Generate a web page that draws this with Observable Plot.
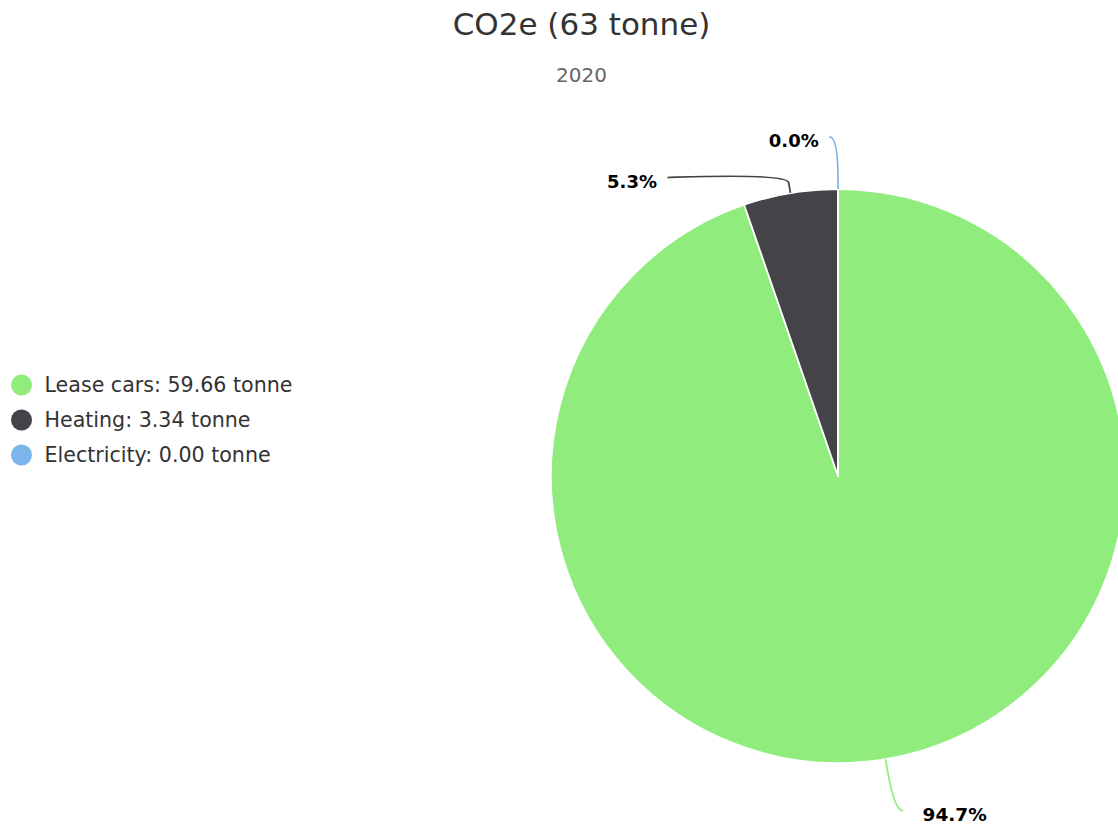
<!DOCTYPE html>
<html>
<head>
<meta charset="utf-8">
<script src="https://cdn.jsdelivr.net/npm/d3@7"></script>
<script src="https://cdn.jsdelivr.net/npm/@observablehq/plot@0.6"></script>
<style>
  html, body { margin: 0; padding: 0; background: #fff; overflow: hidden; }
  #chart { position: relative; width: 1118px; height: 826px; font-family: "DejaVu Sans", sans-serif; }
  .title { position: absolute; left: 581.5px; top: 8.8px; transform: translateX(-50%); font-size: 31px; line-height: 31px; color: #333; white-space: nowrap; }
  .subtitle { position: absolute; left: 581.5px; top: 65.4px; transform: translateX(-50%); font-size: 20px; line-height: 20px; color: #666; white-space: nowrap; }
  #legend { position: absolute; left: 0; top: 366.5px; }
  #pie { position: absolute; left: 0; top: 100px; }
</style>
</head>
<body>
<div id="chart">
  <div class="title" id="title"></div>
  <div class="subtitle" id="subtitle"></div>
  <div id="legend"></div>
  <div id="pie"></div>
</div>
<script>
// Emission sources and their CO2e for the year
const categories = ["Lease cars", "Heating", "Electricity"];
const tonnes = [59.66, 3.34, 0.00];
const colors = ["#90ed7d", "#434348", "#7cb5ec"];
const unit = "tonne";
const titleText = "CO2e (63 tonne)";
const subtitleText = "2020";

document.getElementById("title").textContent = titleText;
document.getElementById("subtitle").textContent = subtitleText;

const rows = categories.map((name, i) => ({name, value: tonnes[i]}));
const total = d3.sum(rows, d => d.value);
const color = Plot.scale({color: {domain: categories, range: colors}});

// Layout of the pie (pixels inside the SVG)
const W = 1118, H = 726;
const R = 287, CX = 838, CY = 376;
const k = 1.75;                       // scale of the label spacing
const labelDist = 30 * k, pad = 5 * k, breakOff = 6 * k, ctrl = 5 * k, minGap = 41;

// Slices run clockwise from 12 o'clock in the data order
const arcs = d3.pie().sort(null).value(d => d.value)(rows);

// Label positions: outside the rim, stacked per side so they don't collide
const LR = R + labelDist;
const labels = arcs.map(a => {
  const mid = (a.startAngle + a.endAngle) / 2;
  const dir = [Math.sin(mid), -Math.cos(mid)];
  return {
    name: a.data.name,
    text: (a.data.value / total * 100).toFixed(1) + "%",
    left: mid > Math.PI,
    dir,
    idealY: LR * dir[1]
  };
});
for (const side of [true, false]) {
  const group = labels.filter(l => l.left === side).sort((a, b) => a.idealY - b.idealY);
  let prev = -Infinity;
  for (const l of group) {
    l.ly = Math.min(LR, Math.max(-LR, l.idealY, prev + minGap));
    prev = l.ly;
  }
}
for (const l of labels) {
  const s = Math.max(-1, Math.min(1, l.ly / LR));
  const off = LR * Math.cos(Math.asin(s)) + pad;
  l.lx = l.left ? -off : off;
  l.touch = [R * l.dir[0], R * l.dir[1]];
  l.brk = [(R + breakOff) * l.dir[0], (R + breakOff) * l.dir[1]];
  l.x = l.lx / R;        // unit-circle coordinates for the x/y scales
  l.y = -l.ly / R;
}

// Slices and their soft connectors
function pieLayer(index, scales) {
  const cx = scales.x(0), cy = scales.y(0), r = scales.x(1) - cx;
  const g = d3.create("svg:g").attr("transform", `translate(${cx},${cy})`);
  const arc = d3.arc().innerRadius(0).outerRadius(r);
  g.selectAll("path.slice")
    .data(arcs)
    .join("path")
    .attr("class", "slice")
    .attr("d", arc)
    .attr("fill", d => color.apply(d.data.name))
    .attr("stroke", "#fff")
    .attr("stroke-width", 1.75)
    .attr("stroke-linejoin", "round");
  const f = r / R;
  g.selectAll("path.connector")
    .data(labels)
    .join("path")
    .attr("class", "connector")
    .attr("fill", "none")
    .attr("stroke", d => color.apply(d.name))
    .attr("stroke-width", 1.75)
    .attr("d", d => {
      const p = d3.path();
      const lx = d.lx * f, ly = d.ly * f;
      const bx = d.brk[0] * f, by = d.brk[1] * f;
      const tx = d.touch[0] * f, ty = d.touch[1] * f;
      p.moveTo(lx, ly);
      p.bezierCurveTo(lx + (d.left ? ctrl : -ctrl), ly, 2 * bx - tx, 2 * by - ty, bx, by);
      p.lineTo(tx, ty);
      return p.toString();
    });
  return g.node();
}

const pie = Plot.plot({
  width: W,
  height: H,
  margin: 0,
  x: {domain: [-1, 1], range: [CX - R, CX + R], axis: null},
  y: {domain: [-1, 1], range: [CY + R, CY - R], axis: null},
  style: {fontFamily: "DejaVu Sans", background: "transparent", overflow: "visible"},
  marks: [
    pieLayer,
    Plot.text(labels.filter(l => l.left), {
      x: "x", y: "y", text: "text", textAnchor: "end", dx: -11, dy: 4,
      fontSize: 18, fontWeight: "bold", fill: "#000"
    }),
    Plot.text(labels.filter(l => !l.left), {
      x: "x", y: "y", text: "text", textAnchor: "start", dx: 19, dy: 4,
      fontSize: 18.5, fontWeight: "bold", fill: "#000"
    })
  ]
});
document.getElementById("pie").append(pie);

// Legend: one row per source with its amount
const legend = Plot.plot({
  width: 320,
  height: 105,
  margin: 0,
  y: {type: "band", domain: categories, range: [0, 105], padding: 0, axis: null},
  color: {domain: categories, range: colors},
  style: {fontFamily: "DejaVu Sans", background: "transparent"},
  marks: [
    Plot.dot(rows, {y: "name", fill: "name", r: 10.5, frameAnchor: "left", dx: 21}),
    Plot.text(rows, {
      y: "name",
      text: d => `${d.name}: ${d.value.toFixed(2)} ${unit}`,
      frameAnchor: "left", dx: 44, textAnchor: "start",
      fontSize: 20.6, fill: "#333"
    })
  ]
});
document.getElementById("legend").append(legend);
</script>
</body>
</html>
